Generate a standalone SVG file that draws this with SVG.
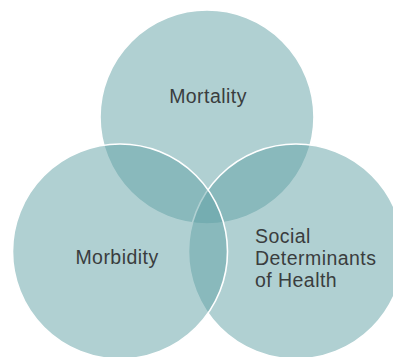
<svg xmlns="http://www.w3.org/2000/svg" width="393" height="357" viewBox="0 0 393 357">
<style>
.c{fill:#61A1A5;fill-opacity:0.5;stroke:#ffffff;stroke-width:1.6}
.t{font-family:"Liberation Sans",Arial,sans-serif;font-size:19.5px;letter-spacing:0.45px;fill:#3a3d3e}
</style>
<rect width="393" height="357" fill="#ffffff"/>
<g id="mortality">
<circle class="c" cx="207" cy="117" r="107"/>
<text class="t" x="208" y="103" text-anchor="middle">Mortality</text>
</g>
<g id="social">
<circle class="c" cx="296" cy="251.5" r="107.5"/>
<text class="t" x="255" y="243">Social</text>
<text class="t" x="255" y="265" letter-spacing="0.15px">Determinants</text>
<text class="t" x="255" y="287">of Health</text>
</g>
<g id="morbidity">
<circle class="c" cx="120" cy="251.5" r="107.5"/>
<text class="t" x="117" y="264" text-anchor="middle">Morbidity</text>
</g>
<g id="connectors"/>
</svg>
